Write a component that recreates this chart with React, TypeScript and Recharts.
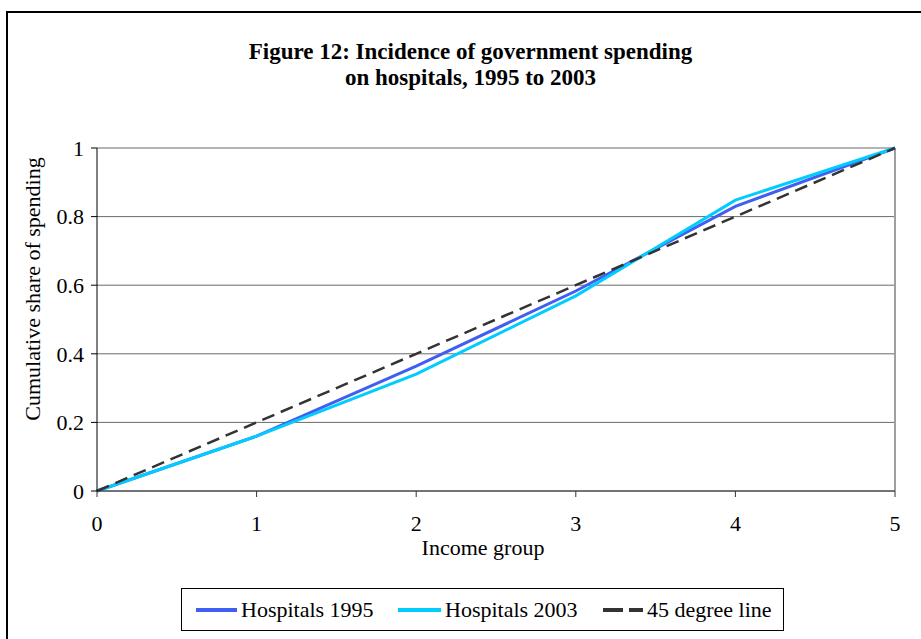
import { LineChart, Line, XAxis, YAxis, CartesianGrid, ReferenceLine } from 'recharts';

const incomeGroups = [0, 1, 2, 3, 4, 5];
const hospitals1995 = [0, 0.16, 0.364, 0.583, 0.83, 1];
const hospitals2003 = [0, 0.16, 0.341, 0.569, 0.848, 1];
const degreeLine = [0, 0.2, 0.4, 0.6, 0.8, 1];
const yTicks = [0, 0.2, 0.4, 0.6, 0.8, 1];

const data = incomeGroups.map((g, i) => ({
  group: g,
  h1995: hospitals1995[i],
  h2003: hospitals2003[i],
  deg45: degreeLine[i],
}));

const FONT = '"Liberation Serif", "DejaVu Serif", serif';

const legendItems = [
  { name: 'Hospitals 1995', color: '#3F5FF2', dash: undefined, left: 14, len: 41 },
  { name: 'Hospitals 2003', color: '#00CCFF', dash: undefined, left: 216, len: 43 },
  { name: '45 degree line', color: '#333333', dash: '20 6', left: 421, len: 40 },
];

function LegendBox() {
  return (
    <div
      style={{
        position: 'absolute',
        left: 181,
        top: 588,
        width: 603,
        height: 43,
        border: '1px solid #000',
        boxSizing: 'border-box',
        fontFamily: FONT,
        fontSize: 22,
        color: '#000',
      }}
    >
      {legendItems.map((item) => (
        <div
          key={item.name}
          style={{ position: 'absolute', left: item.left, top: 0, height: 41, display: 'flex', alignItems: 'center', whiteSpace: 'nowrap' }}
        >
          <svg width={item.len} height={6} style={{ marginRight: 4 }}>
            <line x1={0} y1={3} x2={item.len} y2={3} stroke={item.color} strokeWidth={4} strokeDasharray={item.dash} />
          </svg>
          <span>{item.name}</span>
        </div>
      ))}
    </div>
  );
}

export default function App() {
  return (
    <div style={{ position: 'absolute', left: 0, top: 0, width: 921, height: 639, background: '#fff', overflow: 'hidden' }}>
      <div
        style={{
          position: 'absolute',
          left: 6,
          top: 11,
          width: 940,
          height: 700,
          borderLeft: '2px solid #000',
          borderTop: '2px solid #000',
        }}
      />
      <div
        style={{
          position: 'absolute',
          left: 0,
          top: 39,
          width: 941,
          textAlign: 'center',
          fontFamily: FONT,
          fontWeight: 'bold',
          fontSize: 23,
          lineHeight: '26px',
          color: '#000',
        }}
      >
        Figure 12: Incidence of government spending
        <br />
        on hospitals, 1995 to 2003
      </div>
      <div style={{ position: 'absolute', left: 0, top: 0 }}>
        <LineChart width={921} height={639} data={data} margin={{ top: 148, right: 26, bottom: 74, left: 0 }}>
          <CartesianGrid vertical={false} stroke="#6A6A6A" strokeWidth={1} />
          <ReferenceLine x={5} stroke="#A0A0A0" strokeWidth={2} />
          <XAxis
            dataKey="group"
            type="number"
            domain={[0, 5]}
            ticks={incomeGroups}
            height={74}
            stroke="#333"
            tickSize={6}
            tickMargin={18}
            tick={{ fontFamily: FONT, fontSize: 22, fill: '#000' }}
          />
          <YAxis
            type="number"
            domain={[0, 1]}
            ticks={yTicks}
            width={97}
            stroke="#000"
            tickSize={6}
            tickMargin={7}
            tick={{ fontFamily: FONT, fontSize: 22, fill: '#000' }}
          />
          <Line dataKey="h1995" name="Hospitals 1995" stroke="#3F5FF2" strokeWidth={3} dot={false} isAnimationActive={false} />
          <Line dataKey="h2003" name="Hospitals 2003" stroke="#00CCFF" strokeWidth={3} dot={false} isAnimationActive={false} />
          <Line dataKey="deg45" name="45 degree line" stroke="#333333" strokeWidth={2.5} strokeDasharray="13 7" dot={false} isAnimationActive={false} />
        </LineChart>
      </div>
      <div
        style={{
          position: 'absolute',
          left: 383,
          top: 535,
          width: 200,
          textAlign: 'center',
          fontFamily: FONT,
          fontSize: 22,
          lineHeight: '26px',
          color: '#000',
        }}
      >
        Income group
      </div>
      <div
        style={{
          position: 'absolute',
          left: 33 - 160,
          top: 289 - 13,
          width: 320,
          textAlign: 'center',
          fontFamily: FONT,
          fontSize: 22,
          lineHeight: '26px',
          color: '#000',
          transform: 'rotate(-90deg)',
          whiteSpace: 'nowrap',
        }}
      >
        Cumulative share of spending
      </div>
      <LegendBox />
    </div>
  );
}
